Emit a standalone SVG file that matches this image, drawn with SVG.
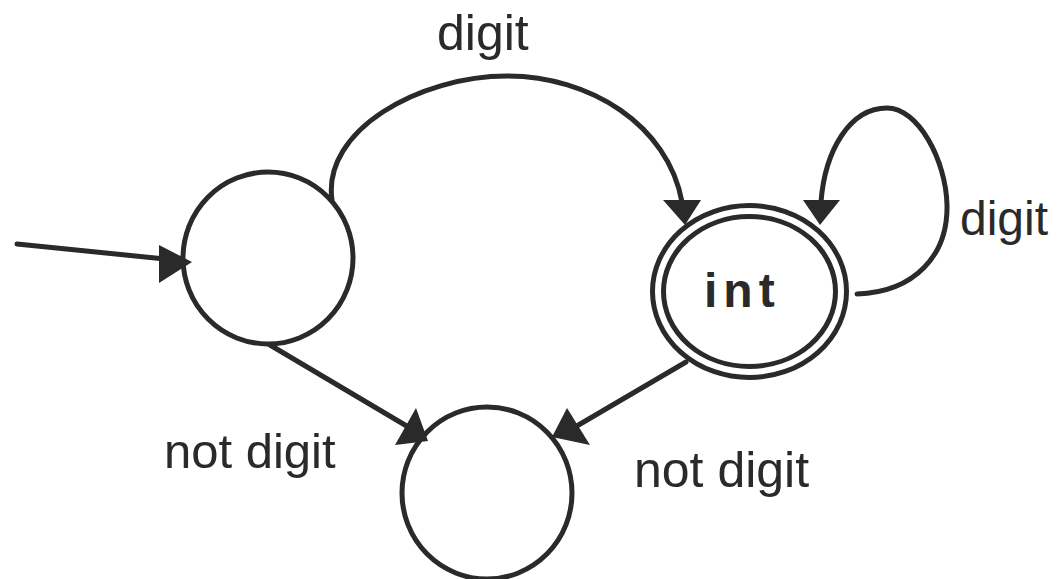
<svg xmlns="http://www.w3.org/2000/svg" width="1059" height="579" viewBox="0 0 1059 579">
  <style>
    .state { fill: none; stroke: #2a2a2a; stroke-width: 5; }
    .edge { fill: none; stroke: #2a2a2a; stroke-width: 5; stroke-linecap: round; }
    .head { fill: #2a2a2a; stroke: none; }
    .label { font-family: "Liberation Sans", Arial, sans-serif; fill: #2a2a2a; }
    .name { font-family: "Liberation Sans", Arial, sans-serif; font-weight: bold; fill: #2a2a2a; }
  </style>
  <rect width="1059" height="579" fill="#ffffff"/>

  <!-- states -->
  <g id="start">
    <ellipse class="state" cx="268" cy="258" rx="85" ry="86"/>
  </g>
  <g id="int">
    <ellipse class="state" cx="749.5" cy="291.5" rx="97" ry="86"/>
    <ellipse class="state" cx="749.5" cy="291.5" rx="86" ry="75"/>
    <text class="name" x="704" y="307" font-size="48" letter-spacing="6">int</text>
  </g>
  <g id="other">
    <ellipse class="state" cx="487" cy="493" rx="85" ry="86"/>
  </g>

  <!-- transitions -->
  <g id="connectors">
    <!-- entry arrow -->
    <line class="edge" x1="17" y1="244" x2="165" y2="259"/>
    <polygon class="head" points="159,245 159,283 192,262"/>

    <!-- start -> int on digit -->
    <path class="edge" d="M332,200 C322,130 420,76 507,76 C590,76 668,125 682,202"/>
    <polygon class="head" points="663,200 701,200 685,225"/>
    <text class="label" x="437" y="50" font-size="50">digit</text>

    <!-- int loops on digit -->
    <path class="edge" d="M857,294 C915,292 948,255 947,205 C946,160 918,108 887,108 C850,108 825,150 821,202"/>
    <polygon class="head" points="803,200 840,200 820,225"/>
    <text class="label" x="960" y="235" font-size="48">digit</text>

    <!-- start -> other on not digit -->
    <line class="edge" x1="270" y1="345" x2="410" y2="428"/>
    <polygon class="head" points="395,445 416,408 428,441"/>
    <text class="label" x="164" y="468" font-size="49">not digit</text>

    <!-- int -> other on not digit -->
    <line class="edge" x1="686" y1="362" x2="570" y2="430"/>
    <polygon class="head" points="567,408 590,445 552,437"/>
    <text class="label" x="634" y="487" font-size="50">not digit</text>
  </g>
</svg>
